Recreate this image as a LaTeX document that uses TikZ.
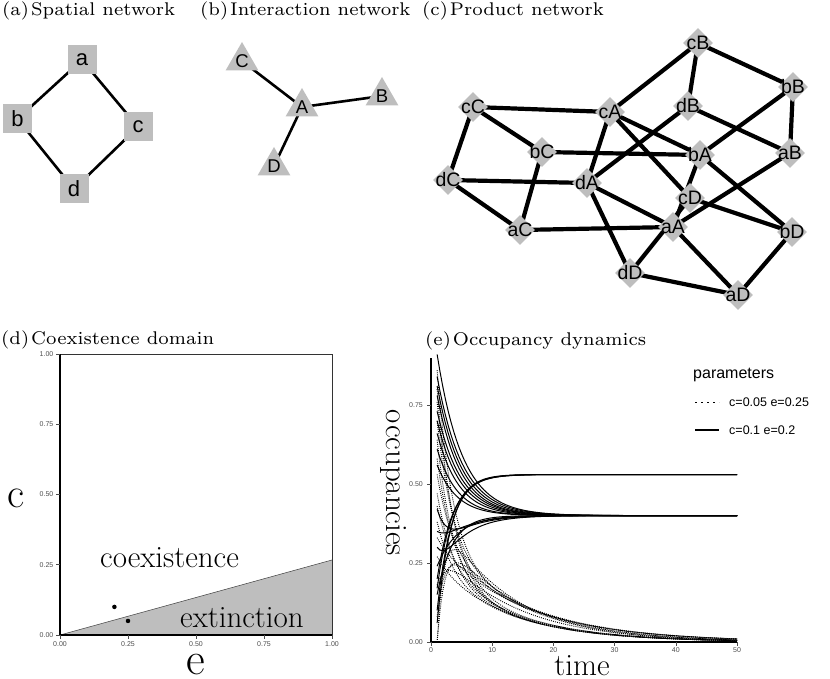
\documentclass[tikz,border=0pt]{standalone}
\usepackage{fontspec}
\newfontfamily\arialf{Liberation Sans}
\newfontfamily\ttlf{lmroman7-regular.otf}
\usetikzlibrary{shapes.geometric,backgrounds}
\definecolor{ndgray}{HTML}{BEBEBE}
\definecolor{tickgray}{HTML}{4D4D4D}
\tikzset{
  sqnode/.style={rectangle, fill=ndgray, minimum size=29pt, inner sep=0pt, font=\arialf\fontsize{22}{22}\selectfont},
  trinode/.style={regular polygon, regular polygon sides=3, fill=ndgray, minimum size=38pt, inner sep=0pt},
  trilab/.style={font=\arialf\fontsize{18.5}{18.5}\selectfont, inner sep=0pt},
  dmnode/.style={diamond, fill=ndgray, minimum width=30pt, minimum height=30pt, inner sep=0pt},
  dmlab/.style={font=\arialf\fontsize{19.5}{19.5}\selectfont, inner sep=0pt},
  edgeA/.style={line width=2.6pt},
  edgeC/.style={line width=4.2pt},
  ttl/.style={anchor=base west, inner sep=0pt, font=\ttlf\fontsize{18.4}{18.4}\selectfont},
  bigtxt/.style={anchor=base west, inner sep=0pt, font=\fontsize{31}{31}\selectfont},
  ticklab/.style={inner sep=0pt, text=tickgray, font=\arialf\fontsize{7}{7}\selectfont},
  tickmark/.style={line width=0.6pt, draw=tickgray},
  axisline/.style={line width=1.1pt, black},
  border/.style={line width=0.6pt, draw=black!80},
  ptnode/.style={circle, fill=black, minimum size=4.5pt, inner sep=0pt},
  solcurve/.style={line width=1pt, black},
  dotcurve/.style={line width=0.9pt, black, dash pattern=on 0.9pt off 1.2pt},
  legtxt/.style={anchor=base west, inner sep=0pt, font=\arialf\fontsize{12.5}{12.5}\selectfont},
}
\newcommand\occsol[4]{\draw[solcurve] plot[domain=1:50,samples=110] (\x,{#1+(#2-#1+#4)*exp(-#3*(\x-1))-#4*exp(-0.25*(\x-1))});}
\newcommand\occdot[4]{\draw[dotcurve] plot[domain=1:50,samples=110] (\x,{#2*exp(-#3*(\x-1))+(#1-#2)*exp(-#4*(\x-1))});}
\begin{document}
\begin{tikzpicture}[x=1pt,y=-1pt]
\useasboundingbox (0,0) rectangle (830,679);
% ---------- titles
\node[ttl] (ta) at (2,16) {(a)\hspace{2pt}Spatial network};
\node[ttl] (tb) at (200,16) {(b)\hspace{2pt}Interaction network};
\node[ttl] (tc) at (422,16) {(c)\hspace{2pt}Product network};
\node[ttl] (td) at (1,344) {(d)\hspace{2pt}Coexistence domain};
\node[ttl] (te) at (425,345) {(e)\hspace{2pt}Occupancy dynamics};
% ---------- (a) spatial network
\node[sqnode] (a) at (82,60) {a};
\node[sqnode] (b) at (17.5,119) {b};
\node[sqnode] (c) at (138,127) {c};
\node[sqnode] (d) at (74,189) {d};
\begin{scope}[on background layer]
  \draw[edgeA] (a.center) -- (b.center);
  \draw[edgeA] (a.center) -- (c.center);
  \draw[edgeA] (b.center) -- (d.center);
  \draw[edgeA] (c.center) -- (d.center);
\end{scope}
% ---------- (b) interaction network
\node[trinode, label={[trilab]center:C}] (C) at (242,61) {};
\node[trinode, label={[trilab]center:A}] (A) at (302,107) {};
\node[trinode, label={[trilab]center:B}] (B) at (382,96) {};
\node[trinode, label={[trilab]center:D}] (D) at (274,166) {};
\begin{scope}[on background layer]
  \draw[edgeA] (C.center) -- (A.center);
  \draw[edgeA] (A.center) -- (B.center);
  \draw[edgeA] (A.center) -- (D.center);
\end{scope}
% ---------- (c) product network
\foreach \n/\px/\py in {cB/698/43, bB/793/87, cC/473/107, cA/610/112, dB/688/106,
  bC/542/152, bA/700/155, aB/790/153, dC/448/180, dA/587/183, cD/690/198,
  aA/673/227, aC/520/230, bD/792/232, dD/630/273, aD/738/295}
  {\node[dmnode, label={[dmlab]center:\n}] (\n) at (\px,\py) {};}
\begin{scope}[on background layer]
  \foreach \u/\v in {cC/cA, cC/bC, cC/dC, bC/aC, dC/aC, bC/bA, dC/dA, aC/aA,
    cA/cB, cA/dA, cA/bA, cA/cD, cB/dB, cB/bB, bB/aB, bB/bA, dB/dA, dB/aB,
    bA/aA, bA/bD, aB/aA, cD/bD, dA/aA, dA/dD, dD/cD, aA/aD, dD/aD, bD/aD}
    {\draw[edgeC] (\u.center) -- (\v.center);}
\end{scope}
% ---------- (d) coexistence domain
\begin{scope}[shift={(60,635)}, xscale=272, yscale=-281]
  \fill[ndgray] (0,0) -- (1,0) -- (1,0.267) -- cycle;
  \draw[line width=0.5pt, black!75] (0,0) -- (1,0.267);
  \draw[border] (0,1) -- (1,1) -- (1,0);
  \draw[axisline] (0,1) -- (0,0) -- (1,0);
  \node[ptnode] (p1) at (0.2,0.1) {};
  \node[ptnode] (p2) at (0.25,0.05) {};
\end{scope}
\foreach \v/\l in {0/0.00, 0.25/0.25, 0.5/0.50, 0.75/0.75, 1/1.00}{
  \draw[tickmark] (56,{635-281*\v}) -- (60,{635-281*\v});
  \node[ticklab, anchor=east] at (53.5,{635-281*\v}) {\l};
  \draw[tickmark] ({60+272*\v},635) -- ({60+272*\v},639);
  \node[ticklab, anchor=north] at ({60+272*\v},641.5) {\l};
}
\node[bigtxt] (coex) at (100,567) {coexistence};
\node[bigtxt] (ext) at (180,627) {extinction};
\node[inner sep=0pt, anchor=base, font=\fontsize{42}{42}\selectfont] (lc) at (16,507) {c};
\node[inner sep=0pt, anchor=base, font=\fontsize{46}{46}\selectfont] (le) at (196,674) {e};
% ---------- (e) occupancy dynamics
\begin{scope}[shift={(431,642)}, xscale=6.12, yscale=-316]
  % dotted: c=0.05 e=0.25
  \occdot{0.86}{0.30}{0.07}{0.40}
  \occdot{0.80}{0.22}{0.08}{0.38}
  \occdot{0.76}{0.24}{0.08}{0.36}
  \occdot{0.70}{0.31}{0.07}{0.40}
  \occdot{0.64}{0.22}{0.08}{0.38}
  \occdot{0.58}{0.23}{0.08}{0.36}
  \occdot{0.53}{0.30}{0.07}{0.40}
  \occdot{0.47}{0.22}{0.08}{0.38}
  \occdot{0.43}{0.24}{0.08}{0.36}
  \occdot{0.38}{0.22}{0.08}{0.40}
  \occdot{0.33}{0.30}{0.07}{0.40}
  \occdot{0.27}{0.23}{0.08}{0.40}
  \occdot{0.18}{0.30}{0.08}{0.70}
  \occdot{0.08}{0.34}{0.08}{0.80}
  \occdot{0.00}{0.42}{0.09}{0.90}
  \occdot{0.00}{0.36}{0.08}{0.80}
  % solid: c=0.1 e=0.2
  \occsol{0.40}{0.91}{0.24}{0}
  \occsol{0.40}{0.84}{0.24}{0}
  \occsol{0.40}{0.81}{0.25}{0}
  \occsol{0.40}{0.78}{0.26}{0}
  \occsol{0.40}{0.73}{0.26}{0}
  \occsol{0.40}{0.70}{0.27}{0}
  \occsol{0.40}{0.66}{0.28}{0}
  \occsol{0.40}{0.61}{0.30}{0}
  \occsol{0.40}{0.56}{0.30}{0}
  \occsol{0.40}{0.42}{0.60}{0.15}
  \occsol{0.40}{0.35}{0.60}{0.12}
  \occsol{0.40}{0.30}{0.80}{0.20}
  \occsol{0.40}{0.24}{0.30}{0}
  \occsol{0.40}{0.15}{0.40}{0}
  \occsol{0.53}{0.06}{0.45}{0}
  \occsol{0.53}{0.10}{0.42}{0}
  \occsol{0.53}{0.17}{0.40}{0}
  \occsol{0.53}{0.20}{0.38}{0}
\end{scope}
\draw[axisline] (431,358) -- (431,642) -- (737,642);
\foreach \v/\l in {0/0.00, 0.25/0.25, 0.5/0.50, 0.75/0.75}{
  \draw[tickmark] (427,{642-316*\v}) -- (431,{642-316*\v});
  \node[ticklab, anchor=east] at (423,{642-316*\v}) {\l};
}
\foreach \t in {0,10,20,30,40,50}{
  \draw[tickmark] ({431+6.12*\t},642) -- ({431+6.12*\t},646);
  \node[ticklab, anchor=north] at ({431+6.12*\t},647) {\t};
}
\node[inner sep=0pt, rotate=-90, font=\fontsize{31}{31}\selectfont] (locc) at (393,483) {occupancies};
\node[inner sep=0pt, anchor=base, font=\fontsize{31}{31}\selectfont] (ltime) at (582,675) {time};
% legend
\node[anchor=base west, inner sep=0pt, font=\arialf\fontsize{16}{16}\selectfont] (lgt) at (693,378) {parameters};
\coordinate (l1a) at (695,402.5);
\coordinate (l1b) at (719,402.5);
\coordinate (l2a) at (695,430);
\coordinate (l2b) at (719,430);
\draw[line width=1.8pt, dash pattern=on 1.8pt off 4.2pt] (l1a) -- (l1b);
\draw[line width=2.2pt] (l2a) -- (l2b);
\node[legtxt] (lg1) at (729,406.5) {c=0.05 e=0.25};
\node[legtxt] (lg2) at (729,434) {c=0.1 e=0.2};
\end{tikzpicture}
\end{document}
